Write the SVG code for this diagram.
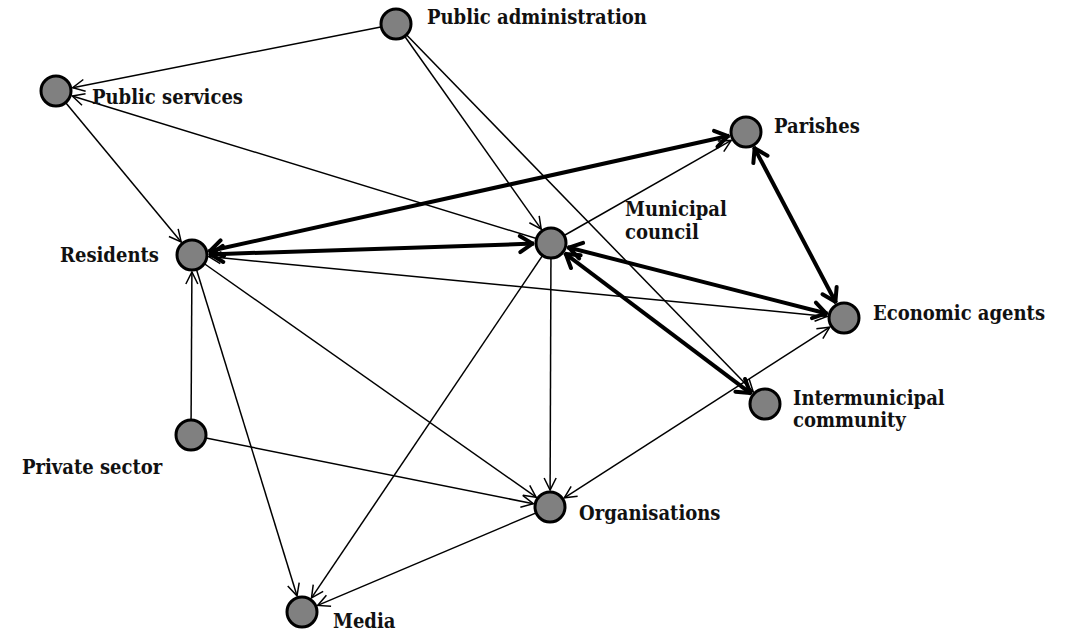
<svg xmlns="http://www.w3.org/2000/svg" width="1071" height="633" viewBox="0 0 1071 633">
<style>
.bg{fill:#ffffff}
.e{stroke:#000;stroke-width:1.5;fill:none}
.t{stroke:#000;stroke-width:4;fill:none}
.n{fill:#808080;stroke:#000;stroke-width:3}
.l{font-family:"DejaVu Serif Condensed","DejaVu Serif",serif;font-stretch:condensed;font-weight:bold;font-size:20px;fill:#111}
</style>
<defs>
<marker id="a" markerUnits="userSpaceOnUse" orient="auto-start-reverse" markerWidth="30" markerHeight="30" refX="0" refY="0" overflow="visible">
<path d="M -12 -6 L 0 0 L -12 6" fill="none" stroke="#000" stroke-width="1.5"/>
</marker>
<marker id="b" markerUnits="userSpaceOnUse" orient="auto-start-reverse" markerWidth="30" markerHeight="30" refX="0" refY="0" overflow="visible">
<path d="M -14 -8 L -1.5 0 L -14 8" fill="none" stroke="#000" stroke-width="4" stroke-linejoin="round" stroke-linecap="round"/>
</marker>
</defs>
<rect class="bg" x="0" y="0" width="1071" height="633"/>
<g id="connectors">
<line class="e" x1="396" y1="24" x2="72.7" y2="87.7" marker-end="url(#a)"/>
<line class="e" x1="396" y1="24" x2="541.2" y2="229.1" marker-end="url(#a)"/>
<line class="e" x1="396" y1="24" x2="753.2" y2="391.8" marker-end="url(#a)"/>
<line class="e" x1="551" y1="243" x2="72.3" y2="96" marker-end="url(#a)"/>
<line class="e" x1="56" y1="91" x2="181.2" y2="241.9" marker-end="url(#a)"/>
<line class="e" x1="551" y1="243" x2="731.2" y2="140.4" marker-end="url(#a)"/>
<line class="e" x1="208.9" y1="256.6" x2="827.1" y2="316.4" marker-start="url(#a)" marker-end="url(#a)"/>
<line class="e" x1="192" y1="255" x2="536.1" y2="497.2" marker-end="url(#a)"/>
<line class="e" x1="192" y1="255" x2="297" y2="595.8" marker-end="url(#a)"/>
<line class="e" x1="191" y1="435" x2="191.9" y2="272" marker-end="url(#a)"/>
<line class="e" x1="191" y1="435" x2="533.3" y2="503.7" marker-end="url(#a)"/>
<line class="e" x1="551" y1="243" x2="550.1" y2="490" marker-end="url(#a)"/>
<line class="e" x1="551" y1="243" x2="311.5" y2="597.9" marker-end="url(#a)"/>
<line class="e" x1="564.3" y1="497.8" x2="829.7" y2="327.2" marker-start="url(#a)" marker-end="url(#a)"/>
<line class="e" x1="550" y1="507" x2="317.7" y2="605.4" marker-end="url(#a)"/>
<line class="t" x1="208.6" y1="251.3" x2="729.4" y2="135.7" marker-start="url(#b)" marker-end="url(#b)"/>
<line class="t" x1="209" y1="254.4" x2="534" y2="243.6" marker-start="url(#b)" marker-end="url(#b)"/>
<line class="t" x1="567.5" y1="247.2" x2="827.5" y2="313.8" marker-start="url(#b)" marker-end="url(#b)"/>
<line class="t" x1="564.6" y1="253.2" x2="751.4" y2="393.8" marker-start="url(#b)" marker-end="url(#b)"/>
<line class="t" x1="753.9" y1="147" x2="836.1" y2="303" marker-start="url(#b)" marker-end="url(#b)"/>
</g>
<g id="public-administration"><circle class="n" cx="396" cy="24" r="15"/><text class="l" x="427" y="24">Public administration</text></g>
<g id="public-services"><circle class="n" cx="56" cy="91" r="15"/><text class="l" x="92" y="104">Public services</text></g>
<g id="parishes"><circle class="n" cx="746" cy="132" r="15"/><text class="l" x="774" y="133">Parishes</text></g>
<g id="municipal-council"><circle class="n" cx="551" cy="243" r="15"/><text class="l" x="625" y="216">Municipal</text><text class="l" x="625" y="239">council</text></g>
<g id="residents"><circle class="n" cx="192" cy="255" r="15"/><text class="l" x="60" y="262">Residents</text></g>
<g id="economic-agents"><circle class="n" cx="844" cy="318" r="15"/><text class="l" x="873" y="320">Economic agents</text></g>
<g id="intermunicipal-community"><circle class="n" cx="765" cy="404" r="15"/><text class="l" x="793" y="405">Intermunicipal</text><text class="l" x="793" y="427">community</text></g>
<g id="private-sector"><circle class="n" cx="191" cy="435" r="15"/><text class="l" x="22" y="474">Private sector</text></g>
<g id="organisations"><circle class="n" cx="550" cy="507" r="15"/><text class="l" x="579" y="520">Organisations</text></g>
<g id="media"><circle class="n" cx="302" cy="612" r="15"/><text class="l" x="333" y="628">Media</text></g>
</svg>
